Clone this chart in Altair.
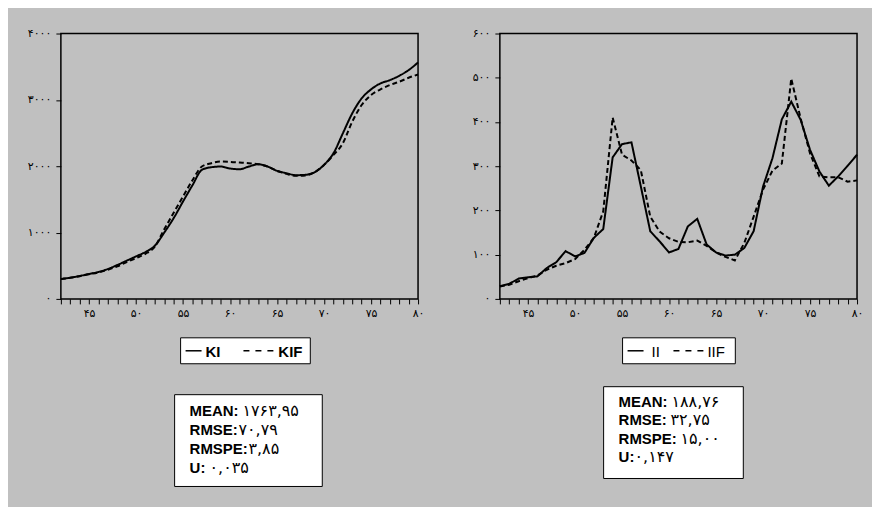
import altair as alt
import pandas as pd

years = list(range(42, 81))

ki = [300, 320, 346, 376, 406, 451, 511, 576, 641, 707, 802, 1000, 1218, 1469, 1714,
      1945, 1985, 1995, 1965, 1955, 1995, 2030, 1995, 1930, 1895, 1865, 1870, 1910,
      2020, 2195, 2496, 2797, 3022, 3158, 3248, 3298, 3363, 3449, 3564]
kif = [300, 318, 342, 372, 400, 440, 490, 555, 615, 680, 790, 1050, 1298, 1544, 1789,
       1995, 2045, 2070, 2065, 2055, 2045, 2030, 1995, 1930, 1885, 1855, 1860, 1910,
       2020, 2170, 2346, 2672, 2922, 3073, 3158, 3223, 3273, 3333, 3383]

ii = [29, 34, 46, 49, 51, 70, 83, 108, 96, 104, 138, 158, 320, 350, 354, 254, 153, 130,
      105, 113, 164, 181, 123, 105, 98, 100, 115, 153, 254, 318, 406, 446, 405, 337,
      288, 256, 277, 301, 326]
iif = [28, 32, 40, 47, 53, 66, 75, 81, 90, 111, 138, 198, 410, 326, 313, 291, 186, 152,
       137, 129, 128, 132, 120, 105, 95, 87, 126, 186, 247, 290, 306, 498, 408, 329,
       277, 275, 275, 265, 268]

left_names = ["KI", "KIF"]
right_names = ["II", "IIF"]
left_yticks = [0, 1000, 2000, 3000, 4000]
right_yticks = [0, 100, 200, 300, 400, 500, 600]

stat_labels_left = ["MEAN:", "RMSE:", "RMSPE:", "U:"]
stat_values_left = ["۱۷۶۳,۹۵", "۷۰,۷۹", "۳,۸۵", "۰,۰۳۵"]
stat_labels_right = ["MEAN:", "RMSE:", "RMSPE:", "U:"]
stat_values_right = ["۱۸۸,۷۶", "۳۲,۷۵", "۱۵,۰۰", "۰,۱۴۷"]

W, H = 358, 266
BG = "#c0c0c0"
LATIN = "'Liberation Sans', Arial, 'DejaVu Sans', sans-serif"
DIGITS = "'DejaVu Sans', sans-serif"


def persian(expr):
    for d in range(10):
        expr = f"replace({expr}, regexp('{d}', 'g'), '{chr(0x06F0 + d)}')"
    return expr


x_label_expr = f"datum.value % 5 == 0 ? {persian('datum.label')} : ''"
y_label_expr = persian("datum.label")


def panel(a, b, names, ymax, yticks, interp, bold, leg, labels, values, sgeom, voffs):
    df = pd.DataFrame({
        "year": years * 2,
        "value": a + b,
        "series": [names[0]] * len(years) + [names[1]] * len(years),
    })
    lines = alt.Chart(df).mark_line(interpolate=interp, strokeWidth=2, color="black").encode(
        x=alt.X("year:Q",
                scale=alt.Scale(domain=[42, 80], nice=False, zero=False),
                axis=alt.Axis(values=years, format="d", labelExpr=x_label_expr,
                              title=None, grid=False, domain=False, tickSize=5,
                              tickColor="black", labelColor="black", labelFontSize=11,
                              labelFont="DejaVu Sans", labelPadding=4, labelOverlap=False,
                              labelFlush=False)),
        y=alt.Y("value:Q",
                scale=alt.Scale(domain=[0, ymax], nice=False),
                axis=alt.Axis(values=yticks, format="d", labelExpr=y_label_expr,
                              title=None, grid=False, domain=False, tickSize=5,
                              tickColor="black", labelColor="black", labelFontSize=11,
                              labelFont="DejaVu Sans", labelPadding=5,
                              minExtent=32, maxExtent=32, labelOverlap=False)),
        strokeDash=alt.StrokeDash("series:N",
                                  scale=alt.Scale(domain=names, range=[[1, 0], [5, 3]]),
                                  legend=None),
    )
    one = pd.DataFrame({"k": [0]})
    lx0, lx1, ly0, ly1, s0, s1, t0, d0, d1, t1 = leg
    box = alt.Chart(one).mark_rect(fill="white", stroke="black", strokeWidth=1).encode(
        x=alt.value(lx0), x2=alt.value(lx1), y=alt.value(ly0), y2=alt.value(ly1))
    ym = (ly0 + ly1) / 2
    solid = alt.Chart(one).mark_rule(color="black", strokeWidth=1.5).encode(
        x=alt.value(s0), x2=alt.value(s1), y=alt.value(ym))
    dashed = alt.Chart(one).mark_rule(color="black", strokeWidth=1.5, strokeDash=[6, 6]).encode(
        x=alt.value(d0), x2=alt.value(d1), y=alt.value(ym))
    weight = "bold" if bold else "normal"
    txt1 = alt.Chart(one).mark_text(text=names[0], align="left", baseline="middle",
                                    font=LATIN, fontSize=15, fontWeight=weight,
                                    color="black").encode(x=alt.value(t0), y=alt.value(ym + 1))
    txt2 = alt.Chart(one).mark_text(text=names[1], align="left", baseline="middle",
                                    font=LATIN, fontSize=15, fontWeight=weight,
                                    color="black").encode(x=alt.value(t1), y=alt.value(ym + 1))
    bx0, bx1, by0, by1, tx, ty, lh = sgeom
    sbox = alt.Chart(one).mark_rect(fill="white", stroke="black", strokeWidth=1).encode(
        x=alt.value(bx0), x2=alt.value(bx1), y=alt.value(by0), y2=alt.value(by1))
    layers = [lines, box, solid, dashed, txt1, txt2, sbox]
    for i, (lab, val) in enumerate(zip(labels, values)):
        yy = ty + i * lh
        layers.append(alt.Chart(one).mark_text(
            text=lab, align="left", baseline="alphabetic", font=LATIN, fontSize=15,
            fontWeight="bold", color="black").encode(x=alt.value(tx), y=alt.value(yy)))
        layers.append(alt.Chart(one).mark_text(
            text=val, align="left", baseline="alphabetic", font=DIGITS, fontSize=16,
            fontWeight="normal", color="black").encode(x=alt.value(tx + voffs[i]),
                                                       y=alt.value(yy)))
    return alt.layer(*layers).properties(width=W, height=H)


left = panel(ki, kif, left_names, 4000, left_yticks, "monotone", True,
             (120, 250, 305, 331, 125, 141, 145, 183, 213, 218),
             stat_labels_left, stat_values_left, (114, 262, 362, 454, 129, 383, 19),
             [53, 49, 59, 20])
right = panel(ii, iif, right_names, 600, right_yticks, "linear", False,
              (123, 236, 305, 331, 128, 144, 152, 174, 204, 208),
              stat_labels_right, stat_values_right, (104, 244, 354, 446, 119, 374, 18.6),
              [53, 52, 62, 16])

chart = alt.hconcat(left, right, spacing=82, bounds="flush").properties(
    background=BG,
    padding={"left": 18, "top": 18, "right": 8, "bottom": 18},
).configure_view(stroke="black", strokeWidth=1.5, fill=None)

chart.save("out.html", embed_options={"renderer": "svg", "actions": False})
